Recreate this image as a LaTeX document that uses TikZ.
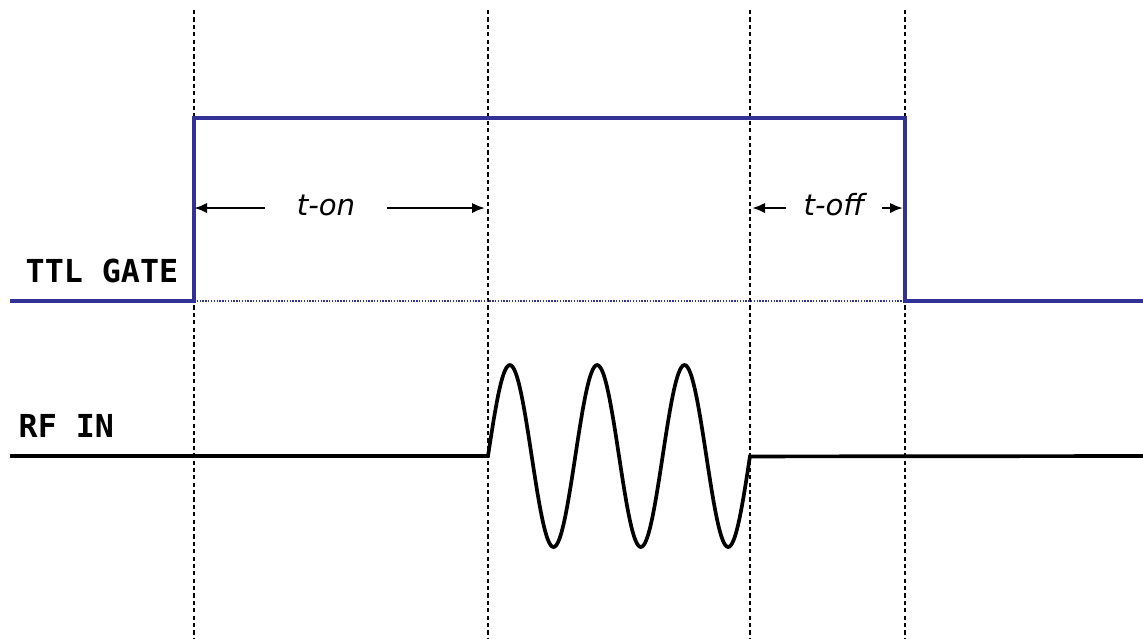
\documentclass[tikz,border=0pt]{standalone}
\usepackage{fontspec}
\setmonofont{DejaVu Sans Mono}
\newfontfamily\spanfont{DejaVu Sans}
\usetikzlibrary{arrows.meta}
\definecolor{gateblue}{RGB}{50,50,150}

\begin{document}
\begin{tikzpicture}[
  x=0.01cm, y=-0.01cm,
  marker/.style={line width=0.35pt, dash pattern=on 1.2pt off 0.9pt},
  gate/.style={gateblue, line width=1.05pt},
  rf/.style={black, line width=1.05pt},
  sig/.style={font=\ttfamily\bfseries\fontsize{9}{9}\selectfont,
              anchor=base west, inner sep=0pt},
  span/.style={font=\spanfont\itshape\fontsize{8.3}{9}\selectfont,
               text height=6pt, text depth=2pt, inner ysep=0pt},
  arr/.style={-{Latex[length=1.3mm, width=1.05mm]}, line width=0.7pt}
]
  \useasboundingbox (0,0) rectangle (1143,638);

  \coordinate (ta) at (194,10);
  \coordinate (tb) at (488,10);
  \coordinate (tc) at (750,10);
  \coordinate (td) at (905,10);
  \foreach \x in {194, 488, 750, 905}
    \draw[marker] (\x,10) -- (\x,638);

  \node[sig] (gatelbl) at (25,282) {TTL GATE};
  \node[sig] (rflbl)   at (18,437) {RF IN};

  \draw[gateblue, line width=0.4pt, dash pattern=on 0.4pt off 0.4pt]
    (194,301) -- (905,301);
  \draw[gate] (10,301) -- (194,301) -- (194,118) -- (905,118)
    -- (905,301) -- (1143,301);

  \draw[rf] (10,456) -- (488,456)
    -- plot[domain=0:3, samples=181, smooth] ({488+87.33*\x},{456-91*sin(360*\x)})
    -- (1143,456);

  \node[span, inner xsep=0.31cm] (ton)  at (326,208) {t-on};
  \node[span, inner xsep=0.17cm] (toff) at (834,208) {t-off};

  \draw[arr] (ton.west)  -- (ton.west -| ta);
  \draw[arr] (ton.east)  -- ([xshift=-0.03cm]ton.east -| tb);
  \draw[arr] (toff.west) -- ([xshift=0.02cm]toff.west -| tc);
  \draw[arr] (toff.east) -- ([xshift=-0.02cm]toff.east -| td);
\end{tikzpicture}
\end{document}
